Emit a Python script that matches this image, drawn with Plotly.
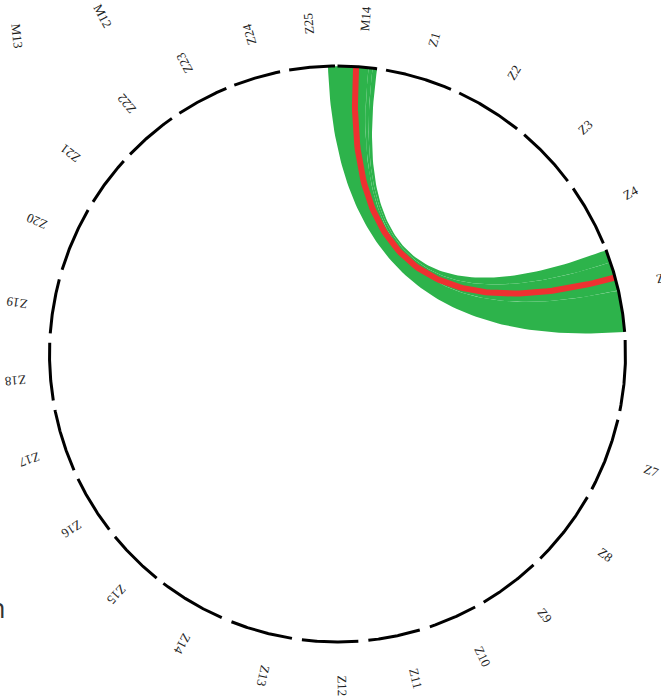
import numpy as np
import plotly.graph_objects as go

# ---- data ----
segment_names = ["M14", "Z1", "Z2", "Z3", "Z4", "Z5", "Z6", "Z7", "Z8", "Z9", "Z10", "Z11", "Z12",
                 "Z13", "Z14", "Z15", "Z16", "Z17", "Z18", "Z19", "Z20", "Z21", "Z22", "Z23", "Z24", "Z25"]
segment_start = [0.0, 9.7, 25.0, 40.4, 54.9, 68.8, 87.2, 103.2, 119.8, 137.1, 151.45, 163.4, 175.85,
                 189.1, 203.7, 218.9, 232.4, 246.2, 260.7, 274.1, 287.0, 301.9, 313.9, 326.7, 339.0, 350.34]
segment_end = [7.9, 23.2, 38.6, 53.1, 67.4, 85.6, 101.4, 118.0, 135.25, 149.5, 161.3, 173.85, 187.1,
               201.6, 217.2, 230.6, 244.3, 258.8, 272.25, 285.0, 300.0, 312.1, 324.9, 337.3, 348.5, 359.5]
# label direction (degrees clockwise from top) and distance (relative to ring radius)
label_angle = [4.7, 17.1, 32.1, 47.5, 61.1, 76.8, 94.0, 110.3, 126.9, 141.5, 154.4, 166.5, 179.1,
               193.0, 208.1, 222.5, 236.6, 251.0, 265.2, 279.0, 293.8, 306.9, 319.9, 332.2, 344.5, 355.0]
label_dist = [1.167, 1.142, 1.153, 1.165, 1.163, 1.16, 1.25, 1.161, 1.162, 1.158, 1.165, 1.160, 1.153,
              1.146, 1.142, 1.135, 1.106, 1.131, 1.124, 1.128, 1.140, 1.160, 1.137, 1.141, 1.149, 1.152]

# ribbons (degrees, clockwise from top): source arc -> target arc
ribbon_src_from = [7.0, 6.2, -1.9]
ribbon_src_to = [7.9, 7.0, 6.2]
ribbon_dst_from = [68.8, 71.4, 77.2]
ribbon_dst_to = [71.4, 77.2, 85.6]

# highlighted link
link_src = 3.7
link_dst = 74.6

# extra floating labels
extra_labels = ["M12", "M13"]
extra_label_angle = [-34.8, -45.3]
extra_label_dist = [1.427, 1.566]
extra_label_rot = [62, 84]

GREEN = "#2db34b"
RED = "#ee3131"

W, H = 661, 700
CX, CY, R = 337.5, 354.0, 288.0


def pt(theta, r=1.0):
    t = np.radians(theta)
    return r * np.sin(t), r * np.cos(t)


def to_paper(x, y):
    return (CX + R * x) / W, 1 - (CY - R * y) / H


def arc(a1, a2, r=1.0, n=60):
    th = np.linspace(a1, a2, n)
    t = np.radians(th)
    return r * np.sin(t), r * np.cos(t)


def bez(a, b, n=100):
    # quadratic curve with its control point at the ring centre
    x0, y0 = pt(a)
    x2, y2 = pt(b)
    t = np.linspace(0, 1, n)
    x = (1 - t) ** 2 * x0 + t ** 2 * x2
    y = (1 - t) ** 2 * y0 + t ** 2 * y2
    return x, y


fig = go.Figure()

for s1, s2, d1, d2 in zip(ribbon_src_from, ribbon_src_to, ribbon_dst_from, ribbon_dst_to):
    ax, ay = arc(s1, s2)
    bx, by = bez(s2, d1)
    cx_, cy_ = arc(d1, d2)
    dx, dy = bez(d2, s1)
    xs = np.concatenate([ax, bx, cx_, dx])
    ys = np.concatenate([ay, by, cy_, dy])
    fig.add_trace(go.Scatter(x=xs, y=ys, mode="lines", fill="toself", fillcolor=GREEN,
                             line=dict(width=0, color=GREEN), hoverinfo="skip", showlegend=False))

lx, ly = bez(link_src, link_dst)
fig.add_trace(go.Scatter(x=lx, y=ly, mode="lines", line=dict(color=RED, width=6),
                         hoverinfo="skip", showlegend=False))

for s, e in zip(segment_start, segment_end):
    x, y = arc(s, e)
    fig.add_trace(go.Scatter(x=x, y=y, mode="lines", line=dict(color="black", width=3),
                             hoverinfo="skip", showlegend=False))

annotations = []
label_font = dict(family="Liberation Serif", size=13, color="#1e1e1e")
for name, m, d in zip(segment_names, label_angle, label_dist):
    px_, py_ = to_paper(*pt(m, d))
    annotations.append(dict(x=px_, y=py_, xref="paper", yref="paper", text=name, showarrow=False,
                            textangle=m - 90, xanchor="center", yanchor="middle", font=label_font))

for name, ang, d, rot in zip(extra_labels, extra_label_angle, extra_label_dist, extra_label_rot):
    px_, py_ = to_paper(*pt(ang, d))
    annotations.append(dict(x=px_, y=py_, xref="paper", yref="paper", text=name, showarrow=False,
                            textangle=rot, xanchor="center", yanchor="middle", font=label_font))

annotations.append(dict(x=7.5 / W, y=1 - 607 / H, xref="paper", yref="paper", text="n",
                        showarrow=False, xanchor="right", yanchor="middle",
                        font=dict(family="Open Sans", size=27, color="#333333")))

fig.update_layout(
    width=W, height=H, margin=dict(l=0, r=0, t=0, b=0),
    paper_bgcolor="white", plot_bgcolor="white",
    xaxis=dict(range=[-CX / R, (W - CX) / R], visible=False, fixedrange=True),
    yaxis=dict(range=[(CY - H) / R, CY / R], visible=False, fixedrange=True),
    annotations=annotations, showlegend=False,
)

fig.write_html("out.html", config={"displayModeBar": False},
               post_script="document.body.style.margin='0px';")
